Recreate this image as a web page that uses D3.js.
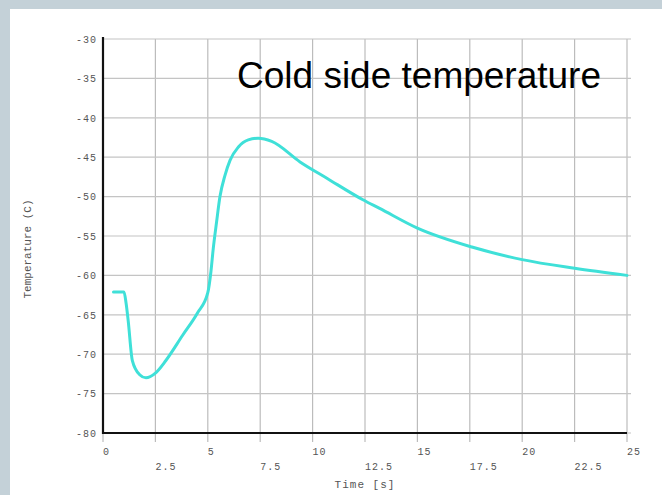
<!DOCTYPE html>
<html>
<head>
<meta charset="utf-8">
<script src="https://cdn.jsdelivr.net/npm/d3@7"></script>
<style>
  body { margin: 0; background: #c4d1d8; }
  svg { display: block; }
</style>
</head>
<body>
<svg id="mainsvg" width="662" height="495"></svg>
<script>
// cold side temperature vs time
var times = [0.5, 1.0, 1.1, 1.2, 1.4, 1.75, 2.05, 2.5, 3.0, 3.8, 4.5, 5.0, 5.15, 5.26, 5.42, 5.58, 5.82, 6.06, 6.46, 6.93, 7.4, 8.05, 9.4, 10.7, 12.4, 13.2, 15.0, 17.6, 20.0, 22.5, 25.0];
var temps = [-62.1, -62.1, -63.5, -65.7, -70.8, -72.6, -73.0, -72.4, -70.8, -67.6, -64.8, -62.2, -59.5, -56.6, -53.2, -50.0, -47.3, -45.4, -43.7, -42.8, -42.6, -43.0, -45.6, -47.7, -50.4, -51.5, -54.0, -56.4, -58.0, -59.1, -60.0];
var xTicks = [0, 2.5, 5, 7.5, 10, 12.5, 15, 17.5, 20, 22.5, 25];
var yTicks = [-30, -35, -40, -45, -50, -55, -60, -65, -70, -75, -80];
var xTickLabels = ["0", "2.5", "5", "7.5", "10", "12.5", "15", "17.5", "20", "22.5", "25"];

var svg = d3.select("#mainsvg");

// white panel
svg.append("rect")
    .attr("x", 10).attr("y", 9)
    .attr("width", 652).attr("height", 486)
    .style("fill", "white");

var plotLeft = 103, plotRight = 627, plotTop = 39, plotBottom = 433;
var x = d3.scaleLinear().domain([0, 25]).range([plotLeft, plotRight]);
var y = d3.scaleLinear().domain([-80, -30]).range([plotBottom, plotTop]);

var monoFont = "'Liberation Mono', 'DejaVu Sans Mono', monospace";

// grid lines
svg.append("g")
    .selectAll("line")
    .data(xTicks)
    .enter().append("line")
    .attr("x1", function(d){ return x(d); })
    .attr("x2", function(d){ return x(d); })
    .attr("y1", plotTop)
    .attr("y2", plotBottom + 9)
    .style("stroke", "#bcbcbc")
    .style("stroke-width", 1.2);

svg.append("g")
    .selectAll("line")
    .data(yTicks)
    .enter().append("line")
    .attr("x1", plotLeft)
    .attr("x2", plotRight + 4)
    .attr("y1", function(d){ return y(d); })
    .attr("y2", function(d){ return y(d); })
    .style("stroke", "#c4c4c4")
    .style("stroke-width", 1.2);

// y tick labels
var yAxis = svg.append("g")
    .attr("transform", "translate(" + (plotLeft - 6) + ",0)")
    .call(d3.axisLeft(y).tickValues(yTicks).tickSize(0).tickPadding(0)
          .tickFormat(function(d){ return String(d); }));
yAxis.select(".domain").remove();
yAxis.selectAll("text")
    .style("font-family", monoFont)
    .style("font-size", "10px")
    .style("letter-spacing", "1px")
    .style("fill", "#555");

// x tick labels in two rows
svg.append("g")
    .selectAll("text")
    .data(xTicks)
    .enter().append("text")
    .attr("x", function(d){ return x(d); })
    .attr("y", function(d, i){ return i % 2 === 0 ? 455 : 470; })
    .text(function(d, i){ return xTickLabels[i]; })
    .style("font-family", monoFont)
    .style("font-size", "10px")
    .style("letter-spacing", "1px")
    .style("fill", "#555");

// axes lines
svg.append("line")
    .attr("x1", plotLeft).attr("x2", plotLeft)
    .attr("y1", plotTop - 2).attr("y2", plotBottom + 1)
    .style("stroke", "#111")
    .style("stroke-width", 2.2);
svg.append("line")
    .attr("x1", plotLeft).attr("x2", plotRight)
    .attr("y1", plotBottom).attr("y2", plotBottom)
    .style("stroke", "#111")
    .style("stroke-width", 2.2);

// curve
var line = d3.line()
    .x(function(d, i){ return x(times[i]); })
    .y(function(d){ return y(d); })
    .curve(d3.curveMonotoneX);

svg.append("path")
    .attr("d", line(temps))
    .style("fill", "none")
    .style("stroke", "#3fe0d8")
    .style("stroke-width", 3)
    .style("stroke-linejoin", "round")
    .style("stroke-linecap", "round");

// axis titles
svg.append("text")
    .attr("x", (plotLeft + plotRight) / 2)
    .attr("y", 488)
    .attr("text-anchor", "middle")
    .text("Time [s]")
    .style("font-family", monoFont)
    .style("font-size", "11px")
    .style("letter-spacing", "1px")
    .style("fill", "#555");

svg.append("text")
    .attr("transform", "translate(31,249) rotate(-90)")
    .attr("text-anchor", "middle")
    .text("Temperature (C)")
    .style("font-family", monoFont)
    .style("font-size", "11px")
    .style("fill", "#555");

// chart title
svg.append("text")
    .attr("x", 237)
    .attr("y", 88)
    .text("Cold side temperature")
    .style("font-family", "'Liberation Sans', Arial, sans-serif")
    .style("font-size", "37px")
    .style("fill", "#000");
</script>
</body>
</html>
